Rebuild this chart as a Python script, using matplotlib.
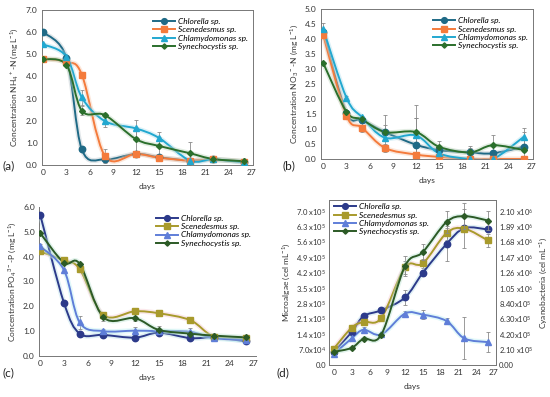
import numpy as np
import matplotlib
matplotlib.use("Agg")
import matplotlib.pyplot as plt
from matplotlib.path import Path
from matplotlib.patches import PathPatch
from matplotlib.lines import Line2D
import matplotlib.patheffects as pe
from matplotlib.ticker import FixedLocator, FixedFormatter

plt.rcParams['font.family'] = ['Lato', 'DejaVu Sans']
plt.rcParams['mathtext.default'] = 'regular'

days = [0, 3, 5, 8, 12, 15, 19, 22, 26]
species = ["Chlorella sp.", "Scenedesmus sp.", "Chlamydomonas sp.", "Synechocystis sp."]

# Panel (a) NH4+-N
a_chl = [6.0, 4.85, 0.7, 0.25, 0.5, 0.35, 0.2, 0.25, 0.15]
a_sce = [4.8, 4.65, 4.08, 0.4, 0.5, 0.33, 0.2, 0.25, 0.15]
a_chm = [5.45, 4.9, 3.05, 1.98, 1.65, 1.22, 0.2, 0.25, 0.12]
a_syn = [4.78, 4.52, 2.45, 2.25, 1.17, 0.86, 0.53, 0.27, 0.17]
a_err = [[0.05, 0.05, 0.05, 0.1, 0.1, 0.05, 0.05, 0.05, 0.05],
         [0.05, 0.05, 0.05, 0.3, 0.15, 0.1, 0.05, 0.05, 0.05],
         [0.05, 0.05, 0.35, 0.25, 0.4, 0.25, 0.1, 0.05, 0.05],
         [0.05, 0.05, 0.2, 0.1, 0.55, 0.4, 0.5, 0.05, 0.05]]

# Panel (b) NO3--N
b_chl = [4.25, 1.55, 1.3, 0.9, 0.48, 0.3, 0.22, 0.19, 0.41]
b_sce = [4.14, 1.45, 1.05, 0.37, 0.15, 0.07, 0.0, 0.0, 0.0]
b_chm = [4.33, 2.05, 1.4, 0.71, 0.79, 0.19, 0.0, 0.0, 0.74]
b_syn = [3.2, 1.58, 1.32, 0.9, 0.9, 0.41, 0.22, 0.46, 0.3]
b_err = [[0.05, 0.05, 0.05, 0.25, 0.9, 0.1, 0.16, 0.05, 0.5],
         [0.05, 0.05, 0.15, 0.12, 0.05, 0.05, 0.0, 0.0, 0.0],
         [0.2, 0.05, 0.05, 0.1, 0.58, 0.05, 0.0, 0.0, 0.3],
         [0.05, 0.05, 0.05, 0.58, 0.9, 0.2, 0.22, 0.33, 0.05]]

# Panel (c) PO4 3--P
c_chl = [5.69, 2.15, 0.9, 0.85, 0.74, 0.94, 0.72, 0.75, 0.59]
c_sce = [4.21, 3.85, 3.5, 1.64, 1.8, 1.72, 1.44, 0.78, 0.72]
c_chm = [4.41, 3.47, 1.35, 1.0, 1.02, 1.0, 0.97, 0.72, 0.65]
c_syn = [4.95, 3.76, 3.71, 1.56, 1.52, 1.05, 0.9, 0.82, 0.75]
c_err = [[0.05, 0.05, 0.05, 0.05, 0.05, 0.05, 0.05, 0.05, 0.05],
         [0.05, 0.05, 0.05, 0.1, 0.1, 0.05, 0.08, 0.05, 0.05],
         [0.1, 0.05, 0.25, 0.1, 0.15, 0.05, 0.15, 0.05, 0.05],
         [0.05, 0.05, 0.05, 0.15, 0.1, 0.15, 0.05, 0.05, 0.05]]

# Panel (d) cell counts (microalgae on left axis, cyanobacteria on right axis)
d_chl = [0.6e5, 1.5e5, 2.22e5, 2.49e5, 3.07e5, 4.19e5, 5.5e5, 6.22e5, 6.16e5]
d_sce = [0.75e5, 1.7e5, 1.96e5, 2.14e5, 4.45e5, 4.62e5, 6.0e5, 6.2e5, 5.66e5]
d_chm = [0.5e5, 1.21e5, 1.6e5, 1.39e5, 2.34e5, 2.29e5, 2.0e5, 1.21e5, 1.04e5]
d_syn = [1.8e5, 2.34e5, 3.58e5, 4.14e5, 1.35e6, 1.54e6, 1.95e6, 2.03e6, 1.97e6]
d_err = [[0.05e5, 0.05e5, 0.05e5, 0.05e5, 0.35e5, 0.15e5, 0.75e5, 0.1e5, 0.1e5],
         [0.05e5, 0.05e5, 0.05e5, 0.05e5, 0.3e5, 0.2e5, 0.3e5, 0.9e5, 0.3e5],
         [0.05e5, 0.1e5, 0.15e5, 0.05e5, 0.1e5, 0.2e5, 0.15e5, 0.95e5, 0.45e5],
         [0.1e5, 0.1e5, 0.15e5, 0.15e5, 1.35e5, 1.05e5, 1.5e5, 1.8e5, 1.35e5]]

d_left_ticks = ["0.0", "7.0x10$^4$", "1.4 x10$^5$", "2.1 x10$^5$", "2.8 x10$^5$", "3.5 x10$^5$",
                "4.2 x10$^5$", "4.9 x10$^5$", "5.6 x10$^5$", "6.3 x10$^5$", "7.0 x10$^5$"]
d_right_ticks = ["0.00", "2.10 x10$^5$", "4.20x10$^5$", "6.30x10$^5$", "8.40x10$^5$", "1.05 x10$^6$",
                 "1.26 x10$^6$", "1.47 x10$^6$", "1.68 x10$^6$", "1.89 x10$^6$", "2.10 x10$^6$"]

cols_ab = ["#1f6a86", "#f47b3c", "#22a8d0", "#2b6f2c"]
cols_cd = ["#2c3a8a", "#a89a2c", "#5f7ed8", "#2c5a26"]
glow_ab = ["#b5c2c8", "#f7c4a6", "#a9dcec", "#b9d2b9"]
glow_cd = ["#b2dbe8", "#f5c6cd", "#b5eef1", "#b6e2d0"]
markers = ["o", "s", "^", "D"]
msizes = [4.6, 4.6, 5.0, 3.0]

FS = 6.0
LFS = 6.0


def smooth_path(x, y):
    n = len(x)
    verts = [(x[0], y[0])]
    codes = [Path.MOVETO]
    for i in range(n - 1):
        x0, y0 = (x[i - 1], y[i - 1]) if i > 0 else (x[i], y[i])
        x3, y3 = (x[i + 2], y[i + 2]) if i + 2 < n else (x[i + 1], y[i + 1])
        c1 = (x[i] + (x[i + 1] - x0) / 6.0, y[i] + (y[i + 1] - y0) / 6.0)
        c2 = (x[i + 1] - (x3 - x[i]) / 6.0, y[i + 1] - (y3 - y[i]) / 6.0)
        verts += [c1, c2, (x[i + 1], y[i + 1])]
        codes += [Path.CURVE4] * 3
    return Path(verts, codes)


def draw_series(ax, x, y, err, col, glow, mk, ms):
    ax.errorbar(x, y, yerr=err, fmt='none', ecolor='#8a8a8a', elinewidth=0.6,
                capsize=1.5, capthick=0.6, zorder=2)
    patch = PathPatch(smooth_path(x, y), fill=False, edgecolor=col, lw=1.4,
                      transform=ax.transData, zorder=3,
                      path_effects=[pe.Stroke(linewidth=3.6, foreground=glow, alpha=0.4), pe.Normal()])
    ax.add_patch(patch)
    ax.plot(x, y, linestyle='none', marker=mk, ms=ms, color=col, mec=col, zorder=4)


def make_legend(ax, cols, loc, bbox):
    handles = [Line2D([0], [0], color=c, lw=1.4, marker=m, ms=s * 0.9)
               for c, m, s in zip(cols, markers, msizes)]
    return ax.legend(handles, species, loc=loc, bbox_to_anchor=bbox, frameon=False,
                     prop={'size': FS, 'style': 'italic'}, handlelength=2.6,
                     handletextpad=0.4, labelspacing=0.15, borderaxespad=0.2)


def style(ax, full_box=True):
    for s in ax.spines.values():
        s.set_color('#777777')
        s.set_linewidth(0.7)
    if not full_box:
        ax.spines['top'].set_visible(False)
        ax.spines['right'].set_visible(False)
    ax.tick_params(labelsize=FS, length=0, pad=3, colors='#333333')
    ax.set_xticks(range(0, 28, 3))
    ax.set_xlabel("days", fontsize=LFS, labelpad=5, color='#333333')


fig = plt.figure(figsize=(5.5, 3.97), dpi=100)

# (a)
ax = fig.add_axes([0.0758, 0.5844, 0.3847, 0.3904])
for y, e, c, g, m, s in zip([a_chl, a_sce, a_chm, a_syn], a_err, cols_ab, glow_ab, markers, msizes):
    draw_series(ax, days, y, e, c, g, m, s)
ax.set_xlim(-0.2, 27.2)
ax.set_ylim(0, 7)
ax.set_yticks(np.arange(0, 7.01, 1.0))
ax.set_yticklabels([f"{v:.1f}" for v in np.arange(0, 7.01, 1.0)])
style(ax)
ax.set_ylabel("Concentration NH$_4$$^+$-N (mg L$^{-1}$)", fontsize=LFS, labelpad=4, color='#333333')
make_legend(ax, cols_ab, 'upper right', (1.0, 0.98))
fig.text(0.004, 0.573, "(a)", fontsize=8.5, color='#222222')

# (b)
ax = fig.add_axes([0.5836, 0.5995, 0.3855, 0.3771])
for y, e, c, g, m, s in zip([b_chl, b_sce, b_chm, b_syn], b_err, cols_ab, glow_ab, markers, msizes):
    draw_series(ax, days, y, e, c, g, m, s)
ax.set_xlim(-0.3, 27.2)
ax.set_ylim(0, 5)
ax.set_yticks(np.arange(0, 5.01, 0.5))
ax.set_yticklabels([f"{v:.1f}" for v in np.arange(0, 5.01, 0.5)])
style(ax)
ax.set_ylabel("Concentration NO$_3$$^-$-N (mg L$^{-1}$)", fontsize=LFS, labelpad=4, color='#333333')
make_legend(ax, cols_ab, 'upper right', (1.0, 0.98))
fig.text(0.513, 0.573, "(b)", fontsize=8.5, color='#222222')

# (c)
ax = fig.add_axes([0.0709, 0.1033, 0.3945, 0.3753])
for y, e, c, g, m, s in zip([c_chl, c_sce, c_chm, c_syn], c_err, cols_cd, glow_cd, markers, msizes):
    draw_series(ax, days, y, e, c, g, m, s)
ax.set_xlim(-0.15, 27.3)
ax.set_ylim(0, 6)
ax.set_yticks(np.arange(0, 6.01, 1.0))
ax.set_yticklabels([f"{v:.1f}" for v in np.arange(0, 6.01, 1.0)])
style(ax, full_box=False)
ax.set_ylabel("Concentration PO$_4$$^{3-}$-P (mg L$^{-1}$)", fontsize=LFS, labelpad=4, color='#333333')
make_legend(ax, cols_cd, 'upper right', (1.0, 0.98))
fig.text(0.004, 0.053, "(c)", fontsize=8.5, color='#222222')

# (d)
ax = fig.add_axes([0.598, 0.0806, 0.3038, 0.4156])
ax2 = ax.twinx()
for y, e, c, g, m, s in zip([d_chl, d_sce, d_chm], d_err[:3], cols_cd[:3], glow_cd[:3], markers[:3], msizes[:3]):
    draw_series(ax, days, y, e, c, g, m, s)
draw_series(ax2, days, d_syn, d_err[3], cols_cd[3], glow_cd[3], markers[3], msizes[3])
ax.set_xlim(-0.85, 27.35)
ax.set_ylim(0, 7.5e5)
ax2.set_ylim(0, 2.25e6)
ax.yaxis.set_major_locator(FixedLocator(np.arange(0, 11) * 0.7e5))
ax.yaxis.set_major_formatter(FixedFormatter(d_left_ticks))
ax2.yaxis.set_major_locator(FixedLocator(np.arange(0, 11) * 2.1e5))
ax2.yaxis.set_major_formatter(FixedFormatter(d_right_ticks))
style(ax)
for s in ax2.spines.values():
    s.set_color('#777777')
    s.set_linewidth(0.7)
ax.tick_params(axis='y', labelsize=5.5, pad=2)
ax2.tick_params(labelsize=5.5, length=0, pad=2, colors='#333333')
ax.set_ylabel("Microalgae (cel mL$^{-1}$)", fontsize=LFS, labelpad=3, color='#333333')
ax2.set_ylabel("Cyanobacteria (cel mL$^{-1}$)", fontsize=LFS, labelpad=3, color='#333333')
handles = [Line2D([0], [0], color=c, lw=1.4, marker=m, ms=s * 0.9)
           for c, m, s in zip(cols_cd, markers, msizes)]
ax2.legend(handles, species, loc='upper left', bbox_to_anchor=(0.0, 1.01), frameon=False,
           prop={'size': FS, 'style': 'italic'}, handlelength=2.6,
           handletextpad=0.4, labelspacing=0.15, borderaxespad=0.2)
fig.text(0.502, 0.053, "(d)", fontsize=8.5, color='#222222')

fig.savefig("out.png", dpi=100)
